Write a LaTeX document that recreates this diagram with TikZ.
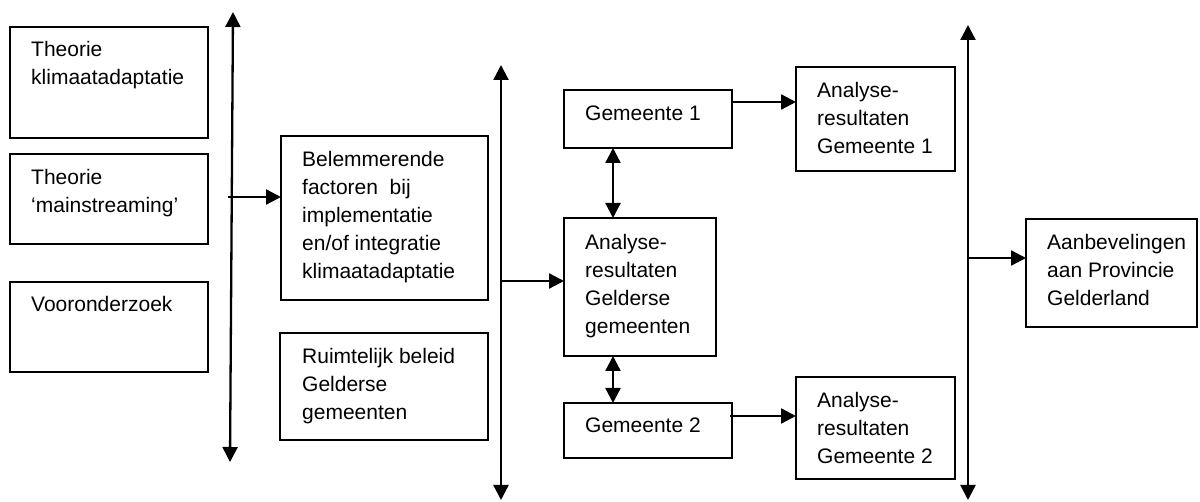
\documentclass[tikz,border=0pt]{standalone}
\usepackage{fontspec}
\setmainfont{Liberation Sans}
\usetikzlibrary{arrows.meta}
\newcommand\mylines[1]{\begin{tabular}[t]{@{}l@{}}#1\end{tabular}}
\tikzset{
  box/.style={draw=black, line width=1.8pt, inner sep=0pt, outer sep=0pt, anchor=north west},
  txt/.style={anchor=base west, inner sep=0pt, font=\fontsize{21}{28}\selectfont},
  conn/.style={line width=2.3pt, draw=black, arrows={-Triangle[length=15pt,width=15pt]}},
  dconn/.style={line width=2.3pt, draw=black, arrows={Triangle[length=15pt,width=15pt]-Triangle[length=15pt,width=15pt]}}
}
\begin{document}
\begin{tikzpicture}[x=1pt,y=-1pt]
\useasboundingbox[fill=white] (0,0) rectangle (1200,502);
% boxes
\node[box, minimum width=198, minimum height=111] (t1) at (10,27) {};
\node[box, minimum width=198, minimum height=90] (t2) at (10,154) {};
\node[box, minimum width=198, minimum height=90] (t3) at (10,282) {};
\node[box, minimum width=207, minimum height=164] (bel) at (281,136) {};
\node[box, minimum width=208, minimum height=107] (rui) at (280,333) {};
\node[box, minimum width=168, minimum height=58] (g1) at (564,90) {};
\node[box, minimum width=152, minimum height=138] (ana) at (564,218) {};
\node[box, minimum width=168, minimum height=55] (g2) at (564,403) {};
\node[box, minimum width=159, minimum height=104] (ar1) at (796,67) {};
\node[box, minimum width=159, minimum height=102] (ar2) at (796,377) {};
\node[box, minimum width=171, minimum height=108] (aan) at (1026,219) {};
% texts
\node[txt] (t1t) at (31,57) {\mylines{Theorie\\klimaatadaptatie}};
\node[txt] (t2t) at (31,185) {\mylines{Theorie\\‘mainstreaming’}};
\node[txt] (t3t) at (31,312) {Vooronderzoek};
\node[txt] (belt) at (302,167) {\mylines{Belemmerende\\factoren\ \ bij\\implementatie\\en/of integratie\\klimaatadaptatie}};
\node[txt] (ruit) at (302,364) {\mylines{Ruimtelijk beleid\\Gelderse\\gemeenten}};
\node[txt] (g1t) at (585,121) {Gemeente 1};
\node[txt] (anat) at (585,250) {\mylines{Analyse-\\resultaten\\Gelderse\\gemeenten}};
\node[txt] (g2t) at (585,433) {Gemeente 2};
\node[txt] (ar1t) at (817,98) {\mylines{Analyse-\\resultaten\\Gemeente 1}};
\node[txt] (ar2t) at (817,408) {\mylines{Analyse-\\resultaten\\Gemeente 2}};
\node[txt] (aant) at (1047,250) {\mylines{Aanbevelingen\\aan Provincie\\Gelderland}};
% vertical lines
\coordinate (l1t) at (233,12);
\coordinate (l1b) at (230,462);
\coordinate (l2t) at (501,65);
\coordinate (l2b) at (501,500);
\coordinate (l3t) at (968,25);
\coordinate (l3b) at (968,500);
\draw[dconn] (l1b) -- (l1t);
\draw[dconn] (l2b) -- (l2t);
\draw[dconn] (l3b) -- (l3t);
% outgoing arrows
\coordinate (l1o) at (228,197);
\coordinate (l2o) at (501,281);
\coordinate (l3o) at (968,258);
\draw[conn] (l1o) -- (l1o -| bel.west);
\draw[conn] (l2o) -- (l2o -| ana.west);
\draw[conn] (l3o) -- (l3o -| aan.west);
% gemeente arrows
\coordinate (g1o) at (732,102);
\coordinate (g2o) at (730,416);
\draw[conn] (g1o) -- (g1o -| ar1.west);
\draw[conn] (g2o) -- (g2o -| ar2.west);
\coordinate (vx) at (613,0);
\draw[dconn] (vx |- g1.south) -- (vx |- ana.north);
\draw[dconn] (vx |- ana.south) -- (vx |- g2.north);
\end{tikzpicture}
\end{document}
